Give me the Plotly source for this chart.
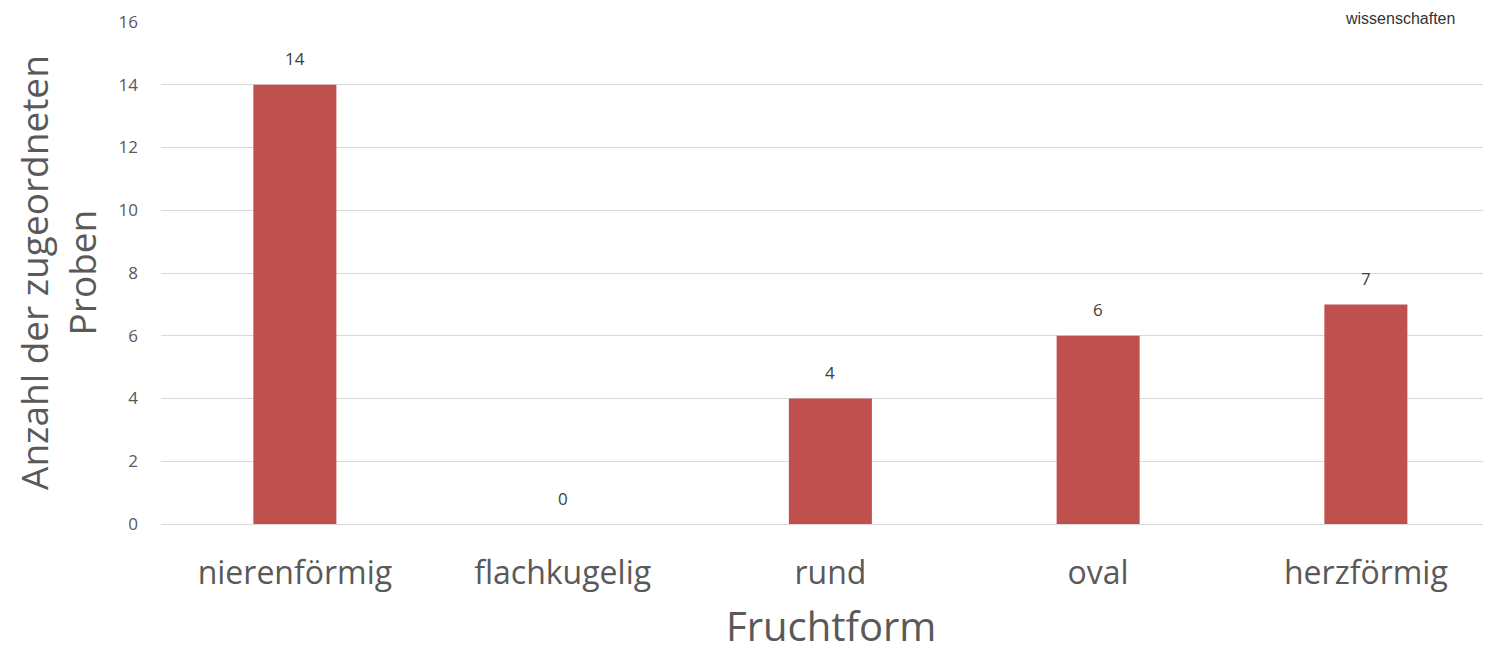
import plotly.graph_objects as go

categories = ["nierenförmig", "flachkugelig", "rund", "oval", "herzförmig"]
values = [14, 0, 4, 6, 7]
y_ticks = [0, 2, 4, 6, 8, 10, 12, 14, 16]

# page body adds an 8px offset
W, H = 1483, 644
ml, mr, mt, mb = 153, 0, 14, 128
pw = W - ml - mr
ph = H - mt - mb

fig = go.Figure()
fig.add_trace(go.Bar(
    x=categories, y=values, marker_color="#c0504d", width=0.31,
    marker_line_width=0, showlegend=False, hoverinfo="x+y"
))

annotations = []
for c, v in zip(categories, values):
    annotations.append(dict(x=c, y=v, xref="x", yref="y", text=str(v), showarrow=False,
                            yshift=26, font=dict(family="Open Sans", size=17, color="#404040")))
annotations.append(dict(x=-(ml - 49) / pw, y=0.5, xref="paper", yref="paper",
                        text="Anzahl der zugeordneten<br>Proben", textangle=-90, showarrow=False,
                        xanchor="center", yanchor="middle",
                        font=dict(family="Open Sans", size=37, color="#595959")))
annotations.append(dict(x=(831 - 8 - ml) / pw, y=-101 / ph, xref="paper", yref="paper",
                        text="Fruchtform", showarrow=False, xanchor="center", yanchor="middle",
                        borderpad=0,
                        font=dict(family="Open Sans", size=40, color="#595959")))
annotations.append(dict(x=(1400 - 8 - ml) / pw, y=1 + mt / ph, xref="paper", yref="paper",
                        text="wissenschaften", showarrow=False, xanchor="center", yanchor="top",
                        font=dict(family="Liberation Sans", size=16, color="#333333")))

fig.update_layout(
    width=W, height=H,
    margin=dict(l=ml, r=mr, t=mt, b=mb, autoexpand=False),
    plot_bgcolor="white", paper_bgcolor="white",
    annotations=annotations,
    xaxis=dict(range=[-0.5, -0.5 + pw / 267.75], showgrid=False, zeroline=False, showline=False,
               ticks="", tickfont=dict(family="Open Sans", size=32, color="#595959"),
               ticklabelstandoff=27),
    yaxis=dict(range=[0, 16], tickvals=y_ticks, showgrid=True, gridcolor="#d9d9d9", gridwidth=1.3,
               zeroline=True, zerolinecolor="#d9d9d9", zerolinewidth=1.3, showline=False,
               ticks="", tickfont=dict(family="Open Sans", size=17, color="#595959"),
               ticklabelstandoff=22),
    bargap=0.69,
)

fig.write_html("out.html")
